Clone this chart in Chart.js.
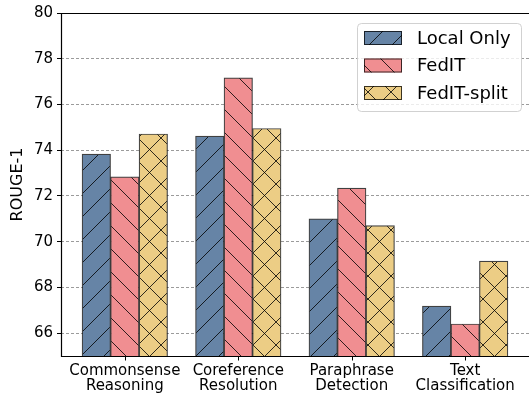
<!DOCTYPE html>
<html>
<head>
<meta charset="utf-8">
<script src="https://cdn.jsdelivr.net/npm/chart.js@4.4.0/dist/chart.umd.min.js"></script>
<style>
  html, body { margin: 0; padding: 0; background: #fff; overflow: hidden; }
  canvas { display: block; }
</style>
</head>
<body>
<canvas id="chart" width="529" height="394"></canvas>
<script>
// Task categories (two-line tick labels)
const categories = [
  ['Commonsense', 'Reasoning'],
  ['Coreference', 'Resolution'],
  ['Paraphrase', 'Detection'],
  ['Text', 'Classification']
];

// Series names and ROUGE-1 scores per category
const seriesNames = ['Local Only', 'FedIT', 'FedIT-split'];
const localOnly  = [73.83, 74.62, 71.00, 67.18];
const fedIT      = [72.83, 77.16, 72.34, 66.40];
const fedITSplit = [74.71, 74.95, 70.70, 69.15];

// Y-axis tick labels
const yTicks = [66, 68, 70, 72, 74, 76, 78, 80];

const FONT = 'DejaVu Sans';
const fills = ['#6684a6', '#f08e91', '#eccd85'];
const hatchKinds = ['/', '\\', 'x'];
const EDGE = 'rgba(0,0,0,0.75)';

// Build a repeating fill + hatch tile
function hatchPattern(fill, kind) {
  const s = 23;
  const c = document.createElement('canvas');
  c.width = s; c.height = s;
  const g = c.getContext('2d');
  g.fillStyle = fill;
  g.fillRect(0, 0, s, s);
  g.strokeStyle = 'rgba(0,0,0,0.8)';
  g.lineWidth = 1;
  g.beginPath();
  if (kind === '/' || kind === 'x') {
    g.moveTo(0, s); g.lineTo(s, 0);
    g.moveTo(-2, 2); g.lineTo(2, -2);
    g.moveTo(s - 2, s + 2); g.lineTo(s + 2, s - 2);
  }
  if (kind === '\\' || kind === 'x') {
    g.moveTo(0, 0); g.lineTo(s, s);
    g.moveTo(s - 2, -2); g.lineTo(s + 2, 2);
    g.moveTo(-2, s - 2); g.lineTo(2, s + 2);
  }
  g.stroke();
  const ctx = document.getElementById('chart').getContext('2d');
  return ctx.createPattern(c, 'repeat');
}

const seriesValues = [localOnly, fedIT, fedITSplit];
const patterns = fills.map((f, k) => hatchPattern(f, hatchKinds[k]));

const datasets = seriesNames.map((name, k) => ({
  label: name,
  data: seriesValues[k].map((v, i) => ({ x: i, y: v })),
  backgroundColor: patterns[k],
  borderColor: EDGE,
  borderWidth: 1.2,
  barThickness: 28.5
}));

// Frame lines (left, top, bottom) and category tick marks, drawn over the bars
const framePlugin = {
  id: 'frame',
  afterDatasetsDraw(chart) {
    const { ctx, chartArea: a } = chart;
    const xs = chart.scales.x;
    ctx.save();
    ctx.strokeStyle = '#000';
    ctx.lineWidth = 1.2;
    ctx.beginPath();
    ctx.moveTo(a.right, a.top + 0.5);
    ctx.lineTo(a.left + 0.5, a.top + 0.5);
    ctx.lineTo(a.left + 0.5, a.bottom + 0.5);
    ctx.lineTo(a.right, a.bottom + 0.5);
    ctx.stroke();
    ctx.lineWidth = 1;
    ctx.beginPath();
    categories.forEach((_, i) => {
      const px = Math.round(xs.getPixelForValue(i)) + 0.5;
      ctx.moveTo(px, a.bottom + 0.5);
      ctx.lineTo(px, a.bottom + 4.5);
    });
    ctx.stroke();
    ctx.restore();
  }
};

// Legend box in the upper right of the plot
const legendPlugin = {
  id: 'boxLegend',
  afterDraw(chart) {
    const { ctx } = chart;
    const x0 = 357, y0 = 23, w = 164, h = 88, r = 4;
    ctx.save();
    ctx.beginPath();
    ctx.roundRect(x0 + 0.5, y0 + 0.5, w, h, r);
    ctx.fillStyle = 'rgba(255,255,255,0.8)';
    ctx.fill();
    ctx.strokeStyle = 'rgba(204,204,204,0.9)';
    ctx.lineWidth = 1;
    ctx.stroke();
    const rows = [38, 65.5, 93];
    chart.data.datasets.forEach((ds, k) => {
      const cy = rows[k];
      ctx.fillStyle = ds.backgroundColor;
      ctx.fillRect(364, cy - 7, 38, 14);
      ctx.strokeStyle = EDGE;
      ctx.strokeRect(364.5, cy - 6.5, 37, 13);
      ctx.fillStyle = '#000';
      ctx.font = '18px "' + FONT + '"';
      ctx.textBaseline = 'middle';
      ctx.textAlign = 'left';
      ctx.fillText(ds.label, 417, cy + 1);
    });
    ctx.restore();
  }
};

new Chart(document.getElementById('chart'), {
  type: 'bar',
  data: { datasets },
  options: {
    responsive: false,
    animation: false,
    devicePixelRatio: 1,
    layout: { padding: { top: 13, left: 0, right: -3, bottom: 0 } },
    plugins: { legend: { display: false }, tooltip: { enabled: false } },
    scales: {
      x: {
        type: 'linear',
        min: -0.5625,
        max: 3.5625,
        offset: false,
        afterBuildTicks: (axis) => { axis.ticks = categories.map((_, i) => ({ value: i })); },
        afterFit: (axis) => { axis.height = 38; axis.paddingLeft = 0; axis.paddingRight = 0; },
        grid: { display: false, offset: false, drawOnChartArea: false, tickLength: 4 },
        border: { display: false },
        ticks: {
          callback: (v) => categories[v],
          color: '#000',
          font: { family: FONT, size: 15, lineHeight: 1.0 },
          padding: 4,
          maxRotation: 0,
          minRotation: 0,
          autoSkip: false
        }
      },
      y: {
        min: 65,
        max: 80,
        afterBuildTicks: (axis) => { axis.ticks = yTicks.map(v => ({ value: v })); },
        afterFit: (axis) => { axis.width = 61; axis.paddingTop = 0; axis.paddingBottom = 0; },
        grid: {
          color: 'rgba(130,130,130,0.8)',
          lineWidth: 1,
          tickLength: 4,
          tickColor: '#000',
          tickWidth: 1,
          tickBorderDash: []
        },
        border: { display: false, dash: [3, 2] },
        ticks: {
          color: '#000',
          font: { family: FONT, size: 15 },
          padding: 4
        },
        title: {
          display: true,
          text: 'ROUGE-1',
          color: '#000',
          font: { family: FONT, size: 16 },
          padding: { top: 8, bottom: 0 }
        }
      }
    }
  },
  plugins: [framePlugin, legendPlugin]
});
</script>
</body>
</html>
